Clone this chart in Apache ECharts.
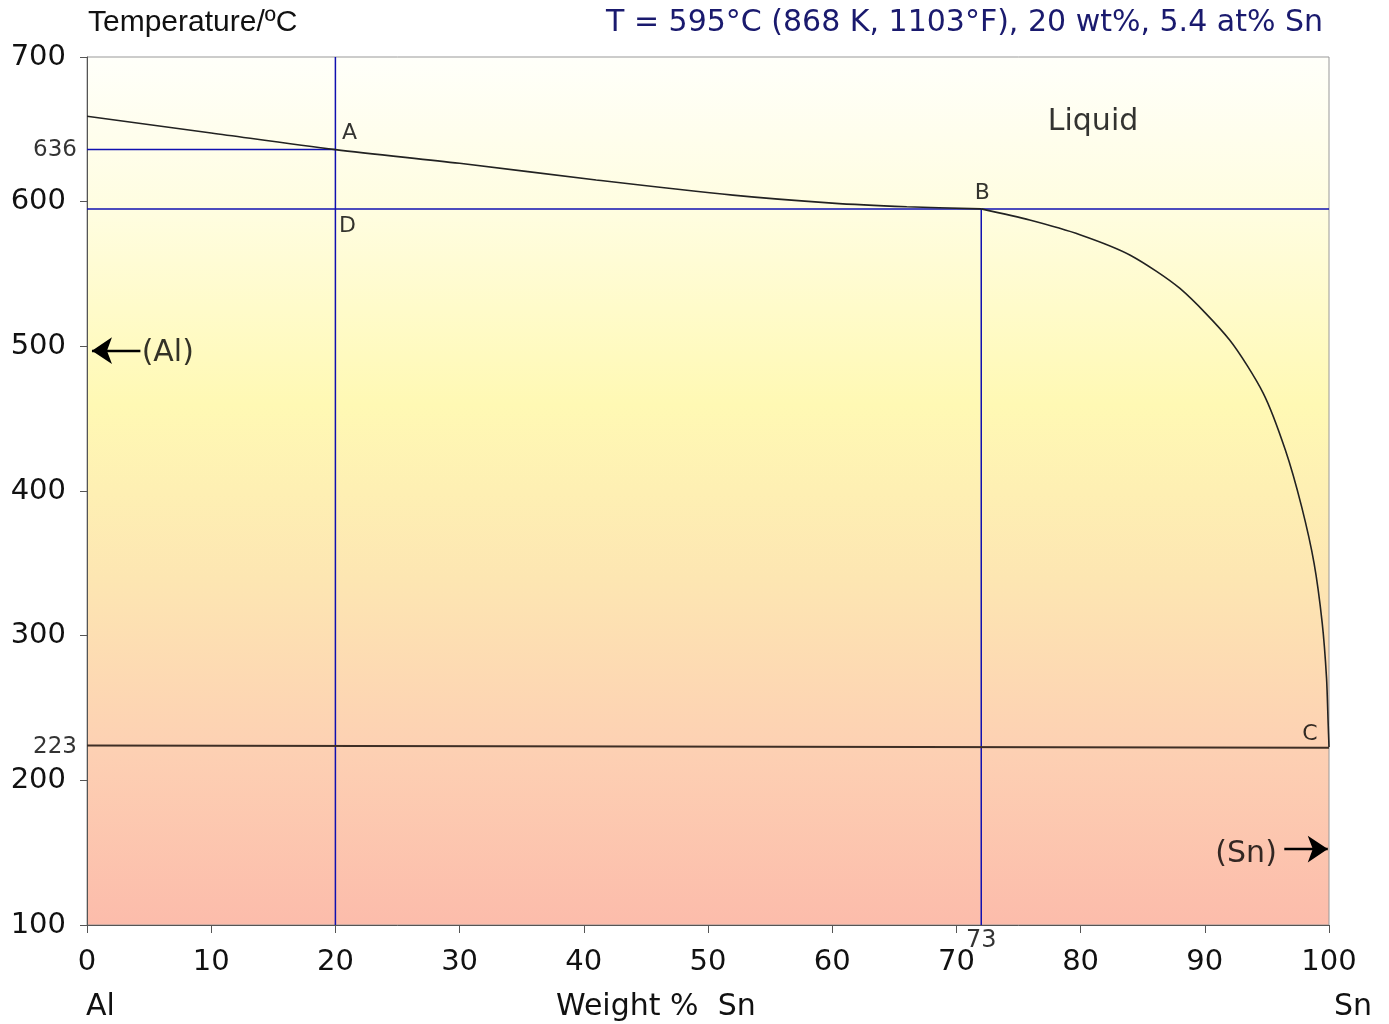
<!DOCTYPE html>
<html>
<head>
<meta charset="utf-8">
<script src="https://cdn.jsdelivr.net/npm/echarts@6/dist/echarts.min.js"></script>
<style>html,body{margin:0;padding:0;background:#fff;}#chart{width:1389px;height:1024px;}</style>
</head>
<body>
<div id="chart"></div>
<script>
// ---- data ----
const xTicks = [0,10,20,30,40,50,60,70,80,90,100];
const yTicks = [100,200,300,400,500,600,700];
// liquidus, Al side (wt% Sn, °C)
const liquidusLeft = [[0,659],[10,647.5],[20,636],[30,626.5],[41,615],[52,604.5],[60,599],[66,596.5],[72,595]];
// liquidus, Sn side
const liquidusRight = [[72,595],[75.9,587.3],[80,577],[84,563],[88,540],[92,504.4],[94.7,467.7],[96.5,428],[97.8,389],[98.8,350],[99.45,309],[99.8,271],[99.93,240],[100,223]];
// eutectic / solidus line
const solidus = [[0,224],[100,222.5]];
// guide lines
const guideA_h = [[0,636],[20,636]];
const guideA_v = [[20,100],[20,700]];
const guideB_h = [[0,595],[100,595]];
const guideB_v = [[72,100],[72,595]];
// point labels
const pointLabels = [
  {name:'A', value:[20,636]},
  {name:'B', value:[72,595]},
  {name:'D', value:[20,595]},
  {name:'C', value:[100,223]}
];
const liquidLabel = [{name:'Liquid', value:[81,655]}];
const specialYLabels = [{name:'636', value:[0,636]},{name:'223', value:[0,223]}];
const specialXLabels = [{name:'73', value:[72,100]}];
const alArrow = [[4.3,497],[0.4,497]];
const snArrow = [[96.4,152.5],[99.9,152.5]];

const chart = echarts.init(document.getElementById('chart'));
const FONT = 'DejaVu Sans';
const blue = '#1010b0';

function guide(data){
  return {type:'line', data:data, symbol:'none', silent:true,
    lineStyle:{color:blue, width:1.5}, z:3};
}
function arrow(data){
  return {type:'line', data:[], symbol:'none', silent:true,
    markLine:{silent:true, symbol:['none','arrow'], symbolSize:20,
      label:{show:false}, lineStyle:{color:'#000', width:2.4, type:'solid'},
      emphasis:{disabled:true},
      data:[[{coord:data[0]},{coord:data[1]}]]}};
}

const option = {
  animation:false,
  backgroundColor:'#fff',
  grid:{left:87, right:60, top:57, bottom:99, show:true, borderColor:'#999', borderWidth:1,
    backgroundColor:new echarts.graphic.LinearGradient(0,0,0,1,[
      {offset:0,color:'#fffffa'},
      {offset:0.18,color:'#fffde0'},
      {offset:0.4,color:'#fff9b4'},
      {offset:0.6,color:'#fde6b2'},
      {offset:0.8,color:'#fdd0b3'},
      {offset:1,color:'#fcbcab'}
    ])},
  xAxis:{type:'value', min:0, max:100, interval:10,
    axisLine:{show:true, onZero:false, lineStyle:{color:'#555', width:1}},
    axisTick:{show:true, length:8, lineStyle:{color:'#555'}},
    splitLine:{show:false},
    axisLabel:{fontFamily:FONT, fontSize:29, color:'#111', margin:23,
      formatter:function(v){return xTicks.indexOf(v)>=0? String(v):'';}}},
  yAxis:{type:'value', min:100, max:700, interval:100,
    axisLine:{show:true, onZero:false, lineStyle:{color:'#555', width:1}},
    axisTick:{show:true, length:7, lineStyle:{color:'#555'}},
    splitLine:{show:false},
    axisLabel:{fontFamily:FONT, fontSize:29, color:'#111', margin:21,
      formatter:function(v){return yTicks.indexOf(v)>=0? String(v):'';}}},
  graphic:[
    {type:'text', left:88, top:8, style:{text:'Temperature/ºC', font:'30px "Liberation Sans"', fill:'#111'}},
    {type:'text', right:66, top:8, style:{text:'T = 595°C (868 K, 1103°F), 20 wt%, 5.4 at% Sn', font:'30px "DejaVu Sans"', fill:'#1a1a6e'}},
    {type:'text', left:86, top:992, style:{text:'Al', font:'30px "DejaVu Sans"', fill:'#111'}},
    {type:'text', left:1334, top:992, style:{text:'Sn', font:'30px "DejaVu Sans"', fill:'#111'}},
    {type:'text', left:556, top:992, style:{text:'Weight %  Sn', font:'30px "DejaVu Sans"', fill:'#111'}}
  ],
  series:[
    guide(guideA_h), guide(guideA_v), guide(guideB_h), guide(guideB_v),
    {type:'line', data:liquidusLeft, symbol:'none', smooth:0.3, silent:true,
      lineStyle:{color:'#222', width:1.6}, z:4},
    {type:'line', data:liquidusRight, symbol:'none', smooth:0.25, silent:true,
      lineStyle:{color:'#222', width:1.6}, z:4},
    {type:'line', data:solidus, symbol:'none', silent:true,
      lineStyle:{color:'#3e2e25', width:2}, z:4},
    arrow(alArrow), arrow(snArrow),
    {type:'scatter', data:pointLabels, symbolSize:0, silent:true, z:5,
      label:{show:true, formatter:'{b}', fontFamily:FONT, fontSize:22, color:'#000',
        position:'inside'},
      labelLayout:function(p){
        const off = {A:[14,-16], B:[1,-16], D:[12,17], C:[-19,-13]}[pointLabels[p.dataIndex].name];
        return {dx:off[0], dy:off[1]};
      }},
    {type:'scatter', data:liquidLabel, symbolSize:0, silent:true, z:5,
      label:{show:true, formatter:'{b}', fontFamily:FONT, fontSize:30, color:'#000', position:'inside'}},
    {type:'scatter', data:specialYLabels, symbolSize:0, silent:true, z:5,
      label:{show:true, formatter:'{b}', fontFamily:FONT, fontSize:23, color:'#000', position:'left', distance:10}},
    {type:'scatter', data:specialXLabels, symbolSize:0, silent:true, z:5,
      label:{show:true, formatter:'{b}', fontFamily:FONT, fontSize:24, color:'#000', position:'bottom', distance:4}},
    {type:'scatter', data:[{name:'(Al)', value:[4.4,495]}], symbolSize:0, silent:true, z:5,
      label:{show:true, formatter:'{b}', fontFamily:FONT, fontSize:30, color:'#000', position:'right', distance:0}},
    {type:'scatter', data:[{name:'(Sn)', value:[95.8,149]}], symbolSize:0, silent:true, z:5,
      label:{show:true, formatter:'{b}', fontFamily:FONT, fontSize:30, color:'#000', position:'left', distance:0}}
  ]
};
chart.setOption(option);
</script>
</body>
</html>
